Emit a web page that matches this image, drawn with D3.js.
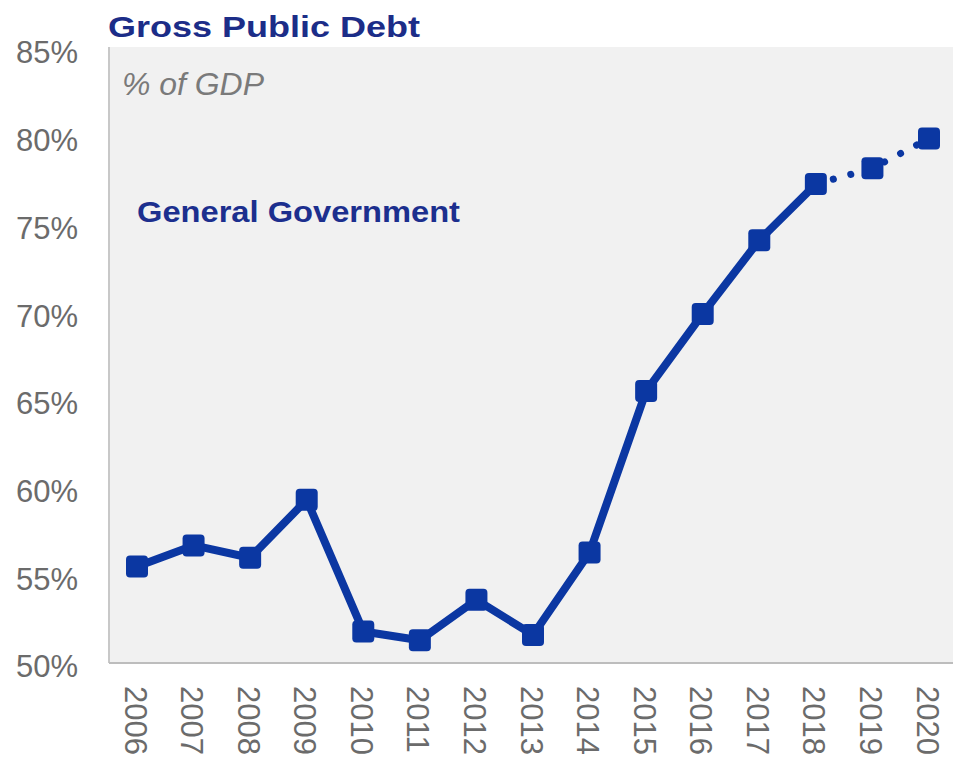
<!DOCTYPE html>
<html>
<head>
<meta charset="utf-8">
<script src="https://cdn.jsdelivr.net/npm/d3@7"></script>
<style>
  body { margin: 0; background: #fff; }
  svg { display: block; font-family: "Liberation Sans", Arial, sans-serif; }
</style>
</head>
<body>
<div id="chart"></div>
<script>
// chart data
const years = ["2006", "2007", "2008", "2009", "2010", "2011", "2012", "2013",
  "2014", "2015", "2016", "2017", "2018", "2019", "2020"];
const debt = [55.5, 56.7, 56.0, 59.3, 51.8, 51.3, 53.6, 51.6,
  56.3, 65.5, 69.9, 74.1, 77.3, 78.2, 79.9];
const lastActual = "2018";
const yTicks = [50, 55, 60, 65, 70, 75, 80, 85];

const width = 953, height = 762;
const plot = { left: 109, right: 953, top: 47, bottom: 663 };
const blue = "#0b37a2";

let svg = d3.select("#chart")
  .append("svg")
  .attr("width", width)
  .attr("height", height);

// scales
let x = d3.scalePoint()
  .domain(years)
  .range([137, 929]);

let y = d3.scaleLinear()
  .domain([50, 85])
  .range([plot.bottom, plot.top + 2]);

// plot background
svg.append("rect")
  .attr("x", plot.left)
  .attr("y", plot.top)
  .attr("width", plot.right - plot.left)
  .attr("height", plot.bottom - plot.top)
  .attr("fill", "#f1f1f1");

// left + bottom border lines
svg.append("line")
  .attr("x1", plot.left).attr("x2", plot.left)
  .attr("y1", plot.top).attr("y2", plot.bottom)
  .attr("stroke", "#c8c8c8").attr("stroke-width", 2);
svg.append("line")
  .attr("x1", plot.left).attr("x2", plot.right)
  .attr("y1", plot.bottom).attr("y2", plot.bottom)
  .attr("stroke", "#bdbdbd").attr("stroke-width", 2);

// Y axis
let yAxis = svg.append("g")
  .attr("transform", "translate(78,0)")
  .call(d3.axisLeft(y).tickValues(yTicks).tickSize(0).tickPadding(0)
    .tickFormat(d => d + "%"));
yAxis.select(".domain").remove();
yAxis.selectAll("text")
  .attr("font-size", 31)
  .attr("font-family", "Liberation Sans, Arial, sans-serif")
  .attr("fill", "#6b6b6b")
  .attr("dy", "0.45em");

// X axis (labels turned 90 degrees)
let xAxis = svg.append("g")
  .attr("transform", "translate(0," + plot.bottom + ")")
  .call(d3.axisBottom(x).tickSize(0).tickPadding(0));
xAxis.select(".domain").remove();
xAxis.selectAll("text")
  .attr("font-size", 31)
  .attr("font-family", "Liberation Sans, Arial, sans-serif")
  .attr("fill", "#6b6b6b")
  .attr("text-anchor", "start")
  .attr("transform", "translate(-13,23) rotate(90)")
  .attr("x", 0)
  .attr("y", 0)
  .attr("dy", 0);

// titles
svg.append("text")
  .attr("x", 108)
  .attr("y", 37)
  .attr("font-size", 30)
  .attr("font-weight", "bold")
  .attr("fill", "#1c2d88")
  .attr("textLength", 312)
  .attr("lengthAdjust", "spacingAndGlyphs")
  .text("Gross Public Debt");

svg.append("text")
  .attr("x", 122)
  .attr("y", 95)
  .attr("font-size", 31)
  .attr("font-style", "italic")
  .attr("fill", "#7a7a7a")
  .attr("textLength", 142)
  .attr("lengthAdjust", "spacingAndGlyphs")
  .text("% of GDP");

svg.append("text")
  .attr("x", 137)
  .attr("y", 222)
  .attr("font-size", 30)
  .attr("font-weight", "bold")
  .attr("fill", "#1c2f8e")
  .attr("textLength", 323)
  .attr("lengthAdjust", "spacingAndGlyphs")
  .text("General Government");

// lines
let points = years.map((yr, i) => ({ year: yr, value: debt[i] }));
let split = years.indexOf(lastActual);

let line = d3.line()
  .x(d => x(d.year))
  .y(d => y(d.value));

svg.append("path")
  .datum(points.slice(0, split + 1))
  .attr("d", line)
  .attr("fill", "none")
  .attr("stroke", blue)
  .attr("stroke-width", 8)
  .attr("stroke-linejoin", "round");

svg.append("path")
  .datum(points.slice(split))
  .attr("d", line)
  .attr("fill", "none")
  .attr("stroke", blue)
  .attr("stroke-width", 7)
  .attr("stroke-linecap", "round")
  .attr("stroke-dasharray", "0.1 18");

// square markers
svg.append("g")
  .selectAll("rect")
  .data(points)
  .enter()
  .append("rect")
  .attr("x", d => x(d.year) - 11)
  .attr("y", d => y(d.value) - 11)
  .attr("width", 22)
  .attr("height", 22)
  .attr("rx", 4)
  .attr("fill", blue);
</script>
</body>
</html>
